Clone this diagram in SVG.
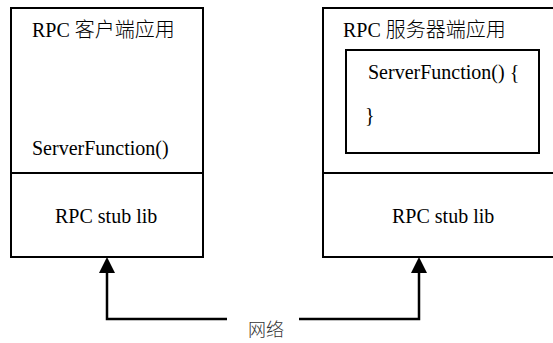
<svg xmlns="http://www.w3.org/2000/svg" width="553" height="343" viewBox="0 0 553 343">
<style>
.box{fill:#fff;stroke:#000;stroke-width:2}
.div{stroke:#000;stroke-width:2}
.t{font-family:"Liberation Serif","Noto Sans CJK SC",serif;font-size:20px;fill:#000}
.cjk{font-family:"Noto Sans CJK SC",sans-serif;font-weight:300}
.net{font-family:"Noto Sans CJK SC",sans-serif;font-size:18px;font-weight:300;fill:#333}
.conn{fill:none;stroke:#000;stroke-width:2.5}
</style>
<rect width="553" height="343" fill="#fff"/>
<g id="client">
<rect class="box" x="11" y="8" width="192" height="249"/>
<line class="div" x1="11" y1="173" x2="203" y2="173"/>
<text class="t" x="32" y="37">RPC <tspan class="cjk">客户端应用</tspan></text>
<text class="t" x="32" y="155">ServerFunction()</text>
<text class="t" x="55" y="223">RPC stub lib</text>
</g>
<g id="server">
<rect class="box" x="323" y="8" width="240" height="249"/>
<line class="div" x1="323" y1="173" x2="553" y2="173"/>
<text class="t" x="343" y="37">RPC <tspan class="cjk">服务器端应用</tspan></text>
<rect class="box" x="346" y="50" width="193" height="103"/>
<text class="t" x="368" y="79">ServerFunction() {</text>
<text class="t" x="365" y="122">}</text>
<text class="t" x="392" y="223">RPC stub lib</text>
</g>
<g id="network">
<text class="net" x="248" y="336">网络</text>
</g>
<g id="connectors">
<path class="conn" d="M227,319 H107 V273"/>
<polygon points="107,257 99,273 115,273" fill="#000"/>
<path class="conn" d="M299,319 H419 V273"/>
<polygon points="419,257 411,273 427,273" fill="#000"/>
</g>
</svg>
